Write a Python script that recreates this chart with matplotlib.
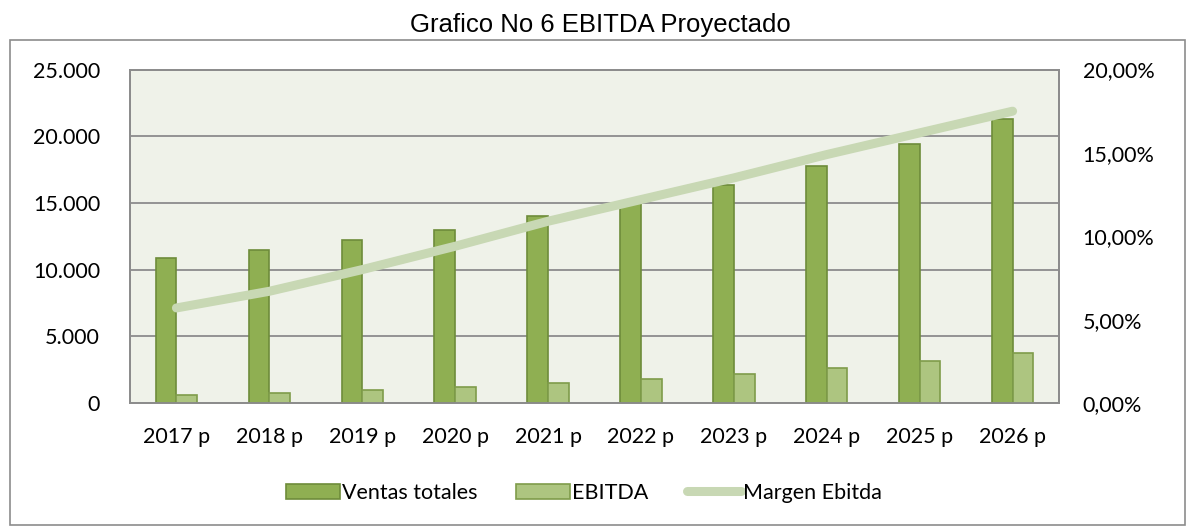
import matplotlib
matplotlib.use("Agg")
from matplotlib import pyplot as plt
from matplotlib.patches import Rectangle
from matplotlib.ticker import FuncFormatter
import numpy as np

# Data
years = ['2017 p', '2018 p', '2019 p', '2020 p', '2021 p',
         '2022 p', '2023 p', '2024 p', '2025 p', '2026 p']
ventas = [10850, 11500, 12250, 13000, 14000, 15000, 16330, 17780, 19450, 21300]
ebitda = [620, 770, 970, 1220, 1520, 1820, 2200, 2650, 3150, 3720]
margen = [5.7, 6.7, 8.0, 9.4, 10.9, 12.2, 13.5, 14.9, 16.2, 17.5]

# Colors
c_ventas = '#8FAF52'
c_ventas_edge = '#6E8C3A'
c_ebitda = '#ADC580'
c_ebitda_edge = '#7F9C4A'
c_line = '#C8D8B4'
c_bg = '#EFF2E9'
c_grid = '#8C8C8C'

tick_font = 'Lato'
fs = 15.5

fig = plt.figure(figsize=(11.89, 5.29), dpi=100)
ax = fig.add_axes([0.1093, 0.2382, 0.7814, 0.6304])
ax2 = ax.twinx()

x = np.arange(len(years))
w = 0.223
ax.bar(x - w / 2, ventas, w, color=c_ventas, edgecolor=c_ventas_edge, linewidth=1.2,
       label='Ventas totales', zorder=3)
ax.bar(x + w / 2, ebitda, w, color=c_ebitda, edgecolor=c_ebitda_edge, linewidth=1.2,
       label='EBITDA', zorder=3)
ax2.plot(x, margen, color=c_line, linewidth=6.5, solid_capstyle='round',
         label='Margen Ebitda', zorder=4)

ax.set_xlim(-0.5, len(years) - 0.5)
ax.set_ylim(0, 25000)
ax2.set_ylim(0, 20)
ax.set_yticks(np.arange(0, 25001, 5000))
ax2.set_yticks(np.arange(0, 20.01, 5))
ax.yaxis.set_major_formatter(FuncFormatter(lambda v, p: f'{int(v):,}'.replace(',', '.')))
ax2.yaxis.set_major_formatter(FuncFormatter(lambda v, p: f'{v:.2f}%'.replace('.', ',')))

ax.set_facecolor(c_bg)
ax.yaxis.grid(True, color=c_grid, linewidth=1.3, zorder=0)
ax.set_axisbelow(True)
for a in (ax, ax2):
    for s in a.spines.values():
        s.set_color(c_grid)
        s.set_linewidth(1.3)

ax.set_xticks(x)
ax.set_xticklabels(years)
ax.tick_params(axis='both', length=0, labelsize=fs)
ax.tick_params(axis='y', pad=21.5)
ax.tick_params(axis='x', pad=17)
ax2.tick_params(axis='y', length=0, labelsize=fs, pad=17)
for lbl in ax.get_xticklabels() + ax.get_yticklabels() + ax2.get_yticklabels():
    lbl.set_fontfamily(tick_font)

# Title and outer frame
fig.text(0.505, 0.953, 'Grafico No 6 EBITDA Proyectado', ha='center', va='center',
         fontsize=18.5, family='Liberation Sans')
fig.patches.append(Rectangle((10 / 1189, 4 / 529), 1175 / 1189, 485 / 529,
                             transform=fig.transFigure, fill=False,
                             edgecolor='#8C8C8C', linewidth=1.2))

h1, l1 = ax.get_legend_handles_labels()
h2, l2 = ax2.get_legend_handles_labels()
ax.legend(h1 + h2, l1 + l2, loc='center', bbox_to_anchor=(0.489, -0.27),
          ncol=3, frameon=False, prop={'family': tick_font, 'size': fs},
          handlelength=2.5, handletextpad=0.1, columnspacing=1.8)

fig.savefig('out.png', dpi=100)
